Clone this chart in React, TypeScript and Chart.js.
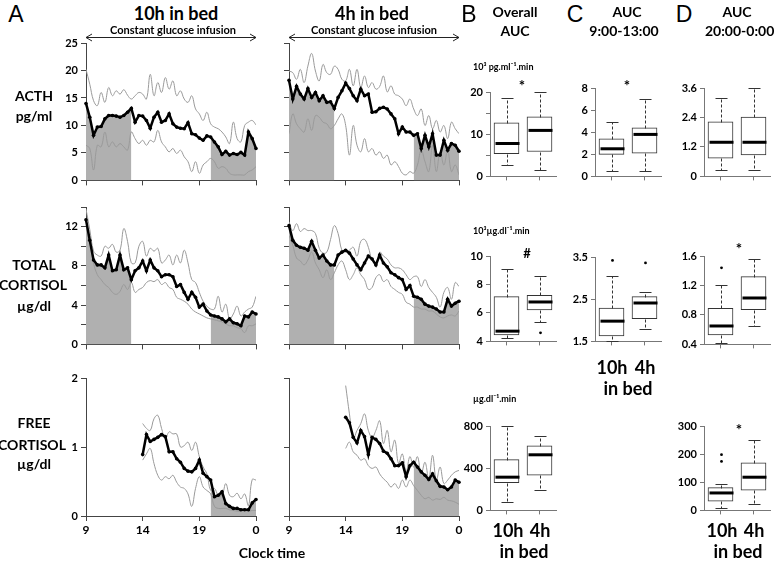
import React, { useEffect, useRef } from 'react';
import { Chart, registerables } from 'chart.js';
Chart.register(...registerables);

const FONT = 'Lato, "Open Sans", "DejaVu Sans", sans-serif';
Chart.defaults.font.family = FONT;
Chart.defaults.color = '#000';

// ---- time grid (20-minute samples) ----
const HOURS_FULL = Array.from({ length: 46 }, (_, i) => 9 + i / 3);
const HOURS_PM = Array.from({ length: 31 }, (_, i) => 14 + i / 3);
const WINDOWS_FULL = [[9, 13], [20, 24]];
const WINDOWS_PM = [[20, 24]];
const X_TICKS = [9, 14, 19, 24];
const X_TICK_LABELS = ['9', '14', '19', '0'];

// ---- ACTH (pg/ml) ----
const ACTH_10H_MEAN = [14.0, 11.5, 8.2, 9.7, 9.8, 11.2, 11.8, 11.8, 11.7, 11.5, 11.8, 12.4, 13.1, 10.6, 11.8, 11.7, 10.9, 9.5, 11.5, 12.4, 10.6, 10.9, 12.1, 10.3, 9.7, 9.5, 9.4, 10.5, 8.5, 8.3, 7.7, 7.3, 8.1, 7.9, 7.0, 6.1, 4.7, 5.3, 4.6, 4.9, 4.7, 5.1, 4.6, 8.8, 7.6, 5.8];
const ACTH_10H_UP = [20.2, 17.5, 14.5, 13.6, 16.0, 14.2, 16.9, 15.4, 16.3, 15.7, 16.5, 15.5, 14.8, 15.4, 16.0, 15.7, 14.8, 19.3, 15.4, 17.8, 16.0, 18.7, 16.6, 18.1, 15.4, 16.3, 14.8, 14.2, 15.4, 13.0, 12.1, 10.9, 12.4, 10.3, 9.7, 9.4, 8.8, 7.9, 6.7, 10.6, 7.6, 7.0, 10.0, 10.6, 10.9, 10.1];
const ACTH_10H_LO = [6.4, 5.8, 1.9, 6.4, 6.1, 8.8, 6.1, 7.0, 6.1, 6.7, 6.1, 5.5, 8.8, 7.6, 6.7, 7.3, 6.4, 7.3, 7.0, 9.1, 7.0, 6.1, 5.2, 5.8, 4.9, 5.5, 4.3, 3.4, 1.6, 3.4, 1.3, 2.8, 3.4, 4.0, 3.4, 2.2, 2.5, 2.2, 1.3, 1.0, 1.0, 1.0, 1.0, 1.6, 1.9, 2.5];
const ACTH_4H_MEAN = [18.2, 14.8, 17.1, 15.7, 14.8, 16.7, 15.1, 16.0, 14.5, 15.4, 14.2, 14.3, 13.1, 15.1, 16.3, 17.7, 16.7, 15.4, 14.5, 16.6, 15.4, 15.7, 12.4, 12.5, 13.1, 13.3, 13.0, 12.1, 11.2, 8.5, 9.7, 8.8, 8.8, 8.2, 8.5, 5.8, 8.2, 6.1, 8.5, 4.6, 4.6, 7.3, 5.5, 6.7, 6.4, 5.3];
const ACTH_4H_UP = [19.9, 19.6, 18.4, 20.2, 17.8, 20.8, 23.1, 19.9, 18.1, 21.1, 19.6, 19.3, 20.8, 20.2, 18.4, 18.1, 20.2, 17.2, 20.2, 16.9, 19.0, 16.9, 17.8, 16.6, 17.1, 19.0, 16.1, 17.2, 15.7, 15.4, 14.8, 13.6, 14.8, 13.0, 11.8, 13.0, 10.0, 11.8, 9.4, 10.9, 8.8, 10.0, 7.6, 10.6, 9.4, 8.5];
const ACTH_4H_LO = [8.5, 12.1, 10.3, 9.4, 8.8, 11.2, 9.1, 11.8, 11.5, 10.6, 10.3, 9.4, 10.0, 11.2, 12.1, 10.0, 4.6, 10.0, 6.4, 5.2, 7.6, 5.2, 5.8, 4.6, 5.2, 4.0, 4.6, 2.8, 3.4, 2.5, 1.3, 1.0, 1.6, 1.3, 2.8, 5.5, 3.4, 1.6, 6.4, 1.6, 5.2, 2.8, 5.5, 1.6, 2.8, 1.0];

// ---- Total cortisol (ug/dl) ----
const TC_10H_MEAN = [12.7, 10.6, 8.6, 8.1, 8.1, 7.8, 9.1, 7.5, 7.6, 9.1, 7.6, 7.8, 6.6, 7.5, 7.8, 8.5, 7.5, 8.6, 7.8, 7.5, 6.9, 7.1, 7.1, 6.9, 5.9, 6.1, 5.3, 4.6, 5.3, 4.8, 3.8, 4.1, 3.4, 3.0, 2.9, 2.8, 2.6, 2.3, 2.6, 2.2, 2.1, 1.9, 2.9, 2.8, 3.3, 3.1];
const TC_10H_UP = [13.8, 11.7, 9.5, 9.1, 9.0, 10.0, 9.8, 10.2, 9.4, 9.6, 11.8, 10.5, 8.3, 8.3, 10.0, 10.5, 9.0, 9.8, 9.5, 9.8, 8.3, 8.6, 9.1, 8.1, 9.1, 8.3, 9.6, 8.3, 6.6, 6.3, 5.3, 4.4, 3.9, 3.6, 3.6, 4.9, 3.3, 4.1, 2.6, 3.1, 3.9, 2.9, 3.3, 3.6, 3.8, 4.9];
const TC_10H_LO = [12.3, 10.6, 8.3, 7.1, 6.6, 6.1, 5.8, 5.3, 5.1, 5.4, 6.1, 5.6, 6.3, 5.3, 5.6, 5.8, 6.3, 6.5, 6.4, 6.6, 6.1, 6.3, 5.8, 5.6, 4.8, 4.6, 4.4, 4.1, 3.6, 3.3, 3.1, 2.9, 2.7, 2.6, 2.5, 2.4, 2.3, 2.1, 1.9, 1.9, 1.7, 1.6, 1.2, 1.9, 1.9, 2.1];
const TC_4H_MEAN = [12.1, 10.6, 10.1, 9.9, 9.8, 9.6, 10.5, 9.6, 8.8, 9.1, 8.5, 8.1, 8.1, 9.1, 9.4, 9.6, 9.3, 8.7, 8.1, 7.6, 8.3, 9.0, 8.7, 8.1, 9.1, 8.3, 7.9, 7.3, 7.1, 6.8, 6.6, 5.6, 6.0, 4.9, 4.8, 4.6, 4.1, 3.9, 3.8, 3.6, 3.3, 3.3, 4.6, 3.9, 4.2, 4.4];
const TC_4H_UP = [12.5, 11.6, 12.3, 11.5, 11.8, 11.6, 11.6, 11.3, 9.8, 9.3, 9.4, 10.7, 12.1, 11.3, 9.6, 9.4, 9.6, 9.9, 9.0, 10.5, 10.7, 9.9, 8.6, 8.3, 9.4, 9.0, 8.7, 8.1, 7.8, 7.8, 7.6, 7.1, 6.6, 6.9, 6.9, 5.9, 6.6, 5.8, 5.3, 4.8, 3.8, 5.3, 5.8, 4.6, 6.3, 5.9];
const TC_4H_LO = [11.1, 10.1, 8.8, 8.5, 8.1, 8.6, 9.4, 8.3, 7.6, 6.8, 7.6, 6.6, 7.3, 8.1, 8.5, 7.6, 6.6, 7.1, 7.8, 7.1, 6.6, 5.6, 5.8, 6.8, 7.1, 6.4, 6.6, 5.9, 5.6, 5.3, 5.1, 4.3, 4.1, 3.8, 3.8, 3.6, 3.6, 3.4, 3.4, 3.1, 2.8, 2.7, 2.9, 3.0, 2.9, 3.4];

// ---- Free cortisol (ug/dl), 14:00-24:00 ----
const FC_10H_MEAN = [0.89, 1.18, 1.08, 1.11, 1.14, 1.18, 1.15, 0.93, 0.93, 0.83, 0.78, 0.69, 0.65, 0.64, 0.69, 0.81, 0.62, 0.57, 0.52, 0.28, 0.30, 0.35, 0.18, 0.14, 0.11, 0.11, 0.09, 0.09, 0.09, 0.19, 0.24];
const FC_10H_UP = [1.34, 1.27, 1.24, 1.41, 1.46, 1.27, 1.12, 1.22, 1.19, 1.19, 1.00, 1.02, 1.07, 0.95, 1.07, 0.86, 0.71, 0.61, 0.37, 0.40, 0.30, 0.30, 0.47, 0.30, 0.28, 0.33, 0.25, 0.32, 0.15, 0.53, 0.52];
const FC_10H_LO = [0.81, 0.90, 0.98, 0.76, 0.59, 0.52, 0.57, 0.54, 0.59, 0.49, 0.42, 0.40, 0.32, 0.14, 0.40, 0.57, 0.42, 0.37, 0.32, 0.14, 0.11, 0.11, 0.11, 0.09, 0.08, 0.07, 0.07, 0.08, 0.07, 0.08, 0.08];
const FC_4H_MEAN = [1.43, 1.35, 1.14, 1.06, 1.24, 1.15, 0.89, 1.14, 1.11, 1.05, 0.94, 0.91, 0.83, 0.73, 0.73, 0.77, 0.57, 0.73, 0.78, 0.71, 0.64, 0.59, 0.53, 0.61, 0.51, 0.43, 0.42, 0.38, 0.42, 0.52, 0.49];
const FC_4H_UP = [1.89, 1.48, 1.12, 1.24, 1.34, 1.48, 1.24, 1.14, 1.24, 1.38, 1.05, 1.24, 0.93, 1.10, 0.76, 0.90, 0.64, 0.86, 0.71, 0.86, 0.61, 0.78, 0.54, 0.88, 0.52, 0.71, 0.47, 0.52, 0.59, 0.64, 0.66];
const FC_4H_LO = [0.98, 1.07, 0.93, 0.88, 0.81, 0.83, 0.73, 0.69, 0.71, 0.61, 0.54, 0.49, 0.42, 0.47, 0.40, 0.52, 0.42, 0.52, 0.44, 0.37, 0.30, 0.25, 0.27, 0.23, 0.25, 0.24, 0.27, 0.23, 0.22, 0.20, 0.17];

// ---- line-panel y ticks ----
const ACTH_Y_TICKS = [0, 5, 10, 15, 20, 25];
const ACTH_Y_LABELS = ['0', '5', '10', '15', '20', '25'];
const TC_Y_TICKS = [0, 2, 4, 6, 8, 10, 12, 14];
const TC_Y_LABELS = ['0', '', '4', '', '8', '', '12', ''];
const FC_Y_TICKS = [0, 1, 2];
const FC_Y_LABELS = ['0', '1', '2'];
const NO_LABELS = ['', '', '', '', '', '', '', ''];

// ---- box plots: [10h, 4h] ----
const GROUPS = ['10h', '4h'];
const BOX_ACTH_ALL = [
  { min: 2.6, q1: 5.4, med: 7.8, q3: 12.7, max: 18.5, out: [] },
  { min: 1.5, q1: 5.9, med: 10.9, q3: 14.1, max: 20.0, out: [] },
];
const BOX_ACTH_AM = [
  { min: 0.45, q1: 2.0, med: 2.5, q3: 3.4, max: 4.9, out: [] },
  { min: 0.45, q1: 2.1, med: 3.8, q3: 4.4, max: 7.0, out: [] },
];
const BOX_ACTH_PM = [
  { min: 0.28, q1: 0.74, med: 1.39, q3: 2.22, max: 3.2, out: [] },
  { min: 0.28, q1: 0.87, med: 1.39, q3: 2.42, max: 3.62, out: [] },
];
const BOX_TC_ALL = [
  { min: 4.23, q1: 4.46, med: 4.72, q3: 7.15, max: 9.12, out: [] },
  { min: 5.34, q1: 6.22, med: 6.77, q3: 7.23, max: 8.6, out: [4.6] },
];
const BOX_TC_AM = [
  { min: 1.5, q1: 1.63, med: 1.98, q3: 2.29, max: 3.04, out: [3.42] },
  { min: 1.79, q1: 2.04, med: 2.41, q3: 2.56, max: 2.67, out: [3.36] },
];
const BOX_TC_PM = [
  { min: 0.42, q1: 0.53, med: 0.65, q3: 0.89, max: 1.21, out: [1.44] },
  { min: 0.65, q1: 0.87, med: 1.03, q3: 1.32, max: 1.56, out: [] },
];
const BOX_FC_ALL = [
  { min: 78, q1: 264, med: 315, q3: 481, max: 800, out: [] },
  { min: 193, q1: 335, med: 527, q3: 611, max: 707, out: [] },
];
const BOX_FC_PM = [
  { min: 8, q1: 33, med: 62, q3: 81, max: 93, out: [174, 198] },
  { min: 23, q1: 72, med: 118, q3: 169, max: 252, out: [] },
];

const B_ACTH_ALL_TICKS = [0, 5, 10, 15, 20];
const B_ACTH_ALL_LABELS = ['0', '', '10', '', '20'];
const B_ACTH_AM_TICKS = [0, 2, 4, 6, 8];
const B_ACTH_AM_LABELS = ['0', '2', '4', '6', '8'];
const B_ACTH_PM_TICKS = [0, 1.2, 2.4, 3.6];
const B_ACTH_PM_LABELS = ['0', '1.2', '2.4', '3.6'];
const B_TC_ALL_TICKS = [4, 6, 8, 10];
const B_TC_ALL_LABELS = ['4', '6', '8', '10'];
const B_TC_AM_TICKS = [1.5, 2.5, 3.5];
const B_TC_AM_LABELS = ['1.5', '2.5', '3.5'];
const B_TC_PM_TICKS = [0.4, 0.8, 1.2, 1.6];
const B_TC_PM_LABELS = ['0.4', '0.8', '1.2', '1.6'];
const B_FC_ALL_TICKS = [0, 400, 800];
const B_FC_ALL_LABELS = ['0', '400', '800'];
const B_FC_PM_TICKS = [0, 100, 200, 300];
const B_FC_PM_LABELS = ['0', '100', '200', '300'];

const TICK_FONT = { family: FONT, size: 11, weight: 'bold' as const };

function LinePanel(p: any) {
  const ref = useRef<HTMLCanvasElement>(null);
  const ml = 40, mr = 10, mt = p.arrow ? 14 : 10, mb = p.xLabels ? 24 : 8;
  const W = p.r - p.l + ml + mr;
  const H = p.b - p.t + mt + mb;
  useEffect(() => {
    const pts = (ys: number[]) => p.hours.map((h: number, i: number) => ({ x: h, y: ys[i] }));
    const meanPts = pts(p.mean);
    const shade = p.windows.map((w: number[]) => ({
      data: meanPts.filter((q: any) => q.x >= w[0] - 1e-6 && q.x <= w[1] + 1e-6),
      fill: 'origin',
      backgroundColor: '#b0b0b0',
      borderWidth: 0,
      pointRadius: 0,
      tension: 0,
    }));
    const arrowPlugin = {
      id: 'arrowTop',
      afterDraw(chart: any) {
        if (!p.arrow) return;
        const { ctx, chartArea } = chart;
        const x = chart.scales.x;
        const y = chartArea.top - 5.5;
        const x0 = x.getPixelForValue(9), x1 = x.getPixelForValue(24);
        ctx.save();
        ctx.strokeStyle = '#222';
        ctx.lineWidth = 1;
        ctx.beginPath();
        ctx.moveTo(x0, y); ctx.lineTo(x1, y);
        ctx.moveTo(x0 + 6, y - 3.5); ctx.lineTo(x0, y); ctx.lineTo(x0 + 6, y + 3.5);
        ctx.moveTo(x1 - 6, y - 3.5); ctx.lineTo(x1, y); ctx.lineTo(x1 - 6, y + 3.5);
        ctx.stroke();
        ctx.restore();
      },
    };
    const chart = new Chart(ref.current as HTMLCanvasElement, {
      type: 'line',
      data: {
        datasets: [
          {
            data: meanPts,
            borderColor: '#000',
            borderWidth: 2.5,
            pointRadius: 1.8,
            pointBackgroundColor: '#000',
            pointBorderWidth: 0,
            tension: 0,
            clip: false,
          },
          { data: pts(p.upper), borderColor: '#9a9a9a', borderWidth: 1, pointRadius: 0, tension: 0.4 },
          { data: pts(p.lower), borderColor: '#9a9a9a', borderWidth: 1, pointRadius: 0, tension: 0.4 },
          ...shade,
        ] as any,
      },
      options: {
        animation: false,
        responsive: false,
        devicePixelRatio: 1,
        layout: { padding: { top: mt, right: mr, left: 0, bottom: 0 } },
        plugins: { legend: { display: false }, tooltip: { enabled: false } },
        scales: {
          x: {
            type: 'linear',
            min: 9,
            max: 24,
            afterBuildTicks: (s: any) => { s.ticks = X_TICKS.map((v) => ({ value: v })); },
            afterFit: (s: any) => { s.height = mb; },
            ticks: {
              autoSkip: false,
              maxRotation: 0,
              padding: 2,
              font: { family: FONT, size: 12, weight: 'bold' },
              callback: (_v: any, i: number) => (p.xLabels ? X_TICK_LABELS[i] : ''),
            },
            grid: { drawOnChartArea: false, tickLength: 5, color: '#444' },
            border: { display: true, color: '#444', width: 1 },
          },
          y: {
            type: 'linear',
            min: 0,
            max: p.yMax,
            afterBuildTicks: (s: any) => { s.ticks = p.yTicks.map((v: number) => ({ value: v })); },
            afterFit: (s: any) => { s.width = ml; },
            ticks: {
              autoSkip: false,
              padding: 3,
              font: TICK_FONT,
              callback: (_v: any, i: number) => p.yLabels[i] ?? '',
            },
            grid: { drawOnChartArea: false, tickLength: 5, color: '#444' },
            border: { display: true, color: '#444', width: 1 },
          },
        },
      } as any,
      plugins: [arrowPlugin],
    });
    return () => chart.destroy();
  }, []);
  return (
    <canvas
      ref={ref}
      width={W}
      height={H}
      style={{ position: 'absolute', left: p.l - ml, top: p.t - mt, width: W, height: H }}
    />
  );
}

function BoxPanel(p: any) {
  const ref = useRef<HTMLCanvasElement>(null);
  const ml = 34, mr = 6, mt = 10, mb = 8;
  const W = p.r - p.l + ml + mr;
  const H = p.b - p.t + mt + mb;
  useEffect(() => {
    const boxes = p.boxes;
    const whiskers = {
      id: 'whiskers',
      afterDatasetsDraw(chart: any) {
        const { ctx } = chart;
        const x = chart.scales.x, y = chart.scales.y;
        boxes.forEach((bx: any, i: number) => {
          const cx = Math.round(x.getPixelForValue(i)) + 0.5;
          const py = (v: number) => Math.round(y.getPixelForValue(v)) + 0.5;
          ctx.save();
          ctx.strokeStyle = '#333';
          ctx.lineWidth = 1;
          ctx.setLineDash([3, 2]);
          ctx.beginPath();
          ctx.moveTo(cx, py(bx.q3)); ctx.lineTo(cx, py(bx.max));
          ctx.moveTo(cx, py(bx.q1)); ctx.lineTo(cx, py(bx.min));
          ctx.stroke();
          ctx.setLineDash([]);
          ctx.beginPath();
          [bx.min, bx.max].forEach((v: number) => { ctx.moveTo(cx - 6, py(v)); ctx.lineTo(cx + 6, py(v)); });
          ctx.stroke();
          ctx.lineWidth = 3;
          ctx.strokeStyle = '#000';
          ctx.beginPath();
          const my = y.getPixelForValue(bx.med);
          ctx.moveTo(cx - 12, my); ctx.lineTo(cx + 12, my);
          ctx.stroke();
          ctx.fillStyle = '#000';
          (bx.out || []).forEach((v: number) => {
            ctx.beginPath();
            ctx.arc(cx, y.getPixelForValue(v), 1.4, 0, Math.PI * 2);
            ctx.fill();
          });
          ctx.restore();
        });
      },
    };
    const chart = new Chart(ref.current as HTMLCanvasElement, {
      type: 'bar',
      data: {
        labels: GROUPS,
        datasets: [
          {
            data: boxes.map((b: any) => [b.q1, b.q3]),
            backgroundColor: '#fff',
            borderColor: '#333',
            borderWidth: 1,
            borderSkipped: false,
            barThickness: 25,
          },
        ] as any,
      },
      options: {
        animation: false,
        responsive: false,
        devicePixelRatio: 1,
        layout: { padding: { top: mt, right: mr, left: 0, bottom: 0 } },
        plugins: { legend: { display: false }, tooltip: { enabled: false } },
        scales: {
          x: {
            type: 'category',
            offset: true,
            afterFit: (s: any) => { s.height = mb; },
            ticks: { display: true, callback: () => '' },
            grid: { offset: false, drawOnChartArea: false, tickLength: 4, color: '#777' },
            border: { display: true, color: '#777', width: 1 },
          },
          y: {
            type: 'linear',
            min: p.yMin,
            max: p.yMax,
            afterBuildTicks: (s: any) => { s.ticks = p.yTicks.map((v: number) => ({ value: v })); },
            afterFit: (s: any) => { s.width = ml; },
            ticks: {
              autoSkip: false,
              padding: 3,
              font: TICK_FONT,
              callback: (_v: any, i: number) => p.yLabels[i] ?? '',
            },
            grid: { drawOnChartArea: false, tickLength: 4, color: '#777' },
            border: { display: true, color: '#777', width: 1 },
          },
        },
      } as any,
      plugins: [whiskers],
    });
    return () => chart.destroy();
  }, []);
  return (
    <canvas
      ref={ref}
      width={W}
      height={H}
      style={{ position: 'absolute', left: p.l - ml, top: p.t - mt, width: W, height: H }}
    />
  );
}

function T(p: { x: number; y: number; s: string; size?: number; w?: number; a?: 'c' | 'l'; f?: string }) {
  return (
    <div
      style={{
        position: 'absolute',
        left: p.x,
        top: p.y,
        transform: p.a === 'l' ? 'translate(0,-50%)' : 'translate(-50%,-50%)',
        fontFamily: p.f || FONT,
        fontSize: p.size || 15,
        fontWeight: p.w ?? 700,
        lineHeight: 1,
        whiteSpace: 'nowrap',
        color: '#000',
      }}
    >
      {p.s}
    </div>
  );
}

export default function App() {
  const L10 = { l: 86, r: 256 };
  const L4 = { l: 289, r: 459 };
  const R1 = { t: 43, b: 182 };
  const R2 = { t: 207, b: 346 };
  const R3 = { t: 378, b: 516 };
  const letter = '"Liberation Sans", Arial, sans-serif';
  return (
    <div
      style={{
        position: 'absolute',
        left: 0,
        top: 0,
        width: 777,
        height: 562,
        background: '#fff',
        overflow: 'hidden',
      }}
    >
      {/* panel A line charts */}
      <LinePanel {...L10} {...R1} arrow hours={HOURS_FULL} mean={ACTH_10H_MEAN} upper={ACTH_10H_UP} lower={ACTH_10H_LO} windows={WINDOWS_FULL} yMax={25} yTicks={ACTH_Y_TICKS} yLabels={ACTH_Y_LABELS} xLabels={false} />
      <LinePanel {...L4} {...R1} arrow hours={HOURS_FULL} mean={ACTH_4H_MEAN} upper={ACTH_4H_UP} lower={ACTH_4H_LO} windows={WINDOWS_FULL} yMax={25} yTicks={ACTH_Y_TICKS} yLabels={NO_LABELS} xLabels={false} />
      <LinePanel {...L10} {...R2} hours={HOURS_FULL} mean={TC_10H_MEAN} upper={TC_10H_UP} lower={TC_10H_LO} windows={WINDOWS_FULL} yMax={14} yTicks={TC_Y_TICKS} yLabels={TC_Y_LABELS} xLabels={false} />
      <LinePanel {...L4} {...R2} hours={HOURS_FULL} mean={TC_4H_MEAN} upper={TC_4H_UP} lower={TC_4H_LO} windows={WINDOWS_FULL} yMax={14} yTicks={TC_Y_TICKS} yLabels={NO_LABELS} xLabels={false} />
      <LinePanel {...L10} {...R3} hours={HOURS_PM} mean={FC_10H_MEAN} upper={FC_10H_UP} lower={FC_10H_LO} windows={WINDOWS_PM} yMax={2} yTicks={FC_Y_TICKS} yLabels={FC_Y_LABELS} xLabels />
      <LinePanel {...L4} {...R3} hours={HOURS_PM} mean={FC_4H_MEAN} upper={FC_4H_UP} lower={FC_4H_LO} windows={WINDOWS_PM} yMax={2} yTicks={FC_Y_TICKS} yLabels={NO_LABELS} xLabels />

      {/* box plots */}
      <BoxPanel l={490} r={556} t={92} b={178} boxes={BOX_ACTH_ALL} yMin={0} yMax={20} yTicks={B_ACTH_ALL_TICKS} yLabels={B_ACTH_ALL_LABELS} />
      <BoxPanel l={595} r={661} t={88} b={178} boxes={BOX_ACTH_AM} yMin={0} yMax={8} yTicks={B_ACTH_AM_TICKS} yLabels={B_ACTH_AM_LABELS} />
      <BoxPanel l={704} r={770} t={88} b={178} boxes={BOX_ACTH_PM} yMin={0} yMax={3.6} yTicks={B_ACTH_PM_TICKS} yLabels={B_ACTH_PM_LABELS} />
      <BoxPanel l={490} r={556} t={256} b={343} boxes={BOX_TC_ALL} yMin={4} yMax={10} yTicks={B_TC_ALL_TICKS} yLabels={B_TC_ALL_LABELS} />
      <BoxPanel l={595} r={661} t={257} b={343} boxes={BOX_TC_AM} yMin={1.5} yMax={3.5} yTicks={B_TC_AM_TICKS} yLabels={B_TC_AM_LABELS} />
      <BoxPanel l={704} r={770} t={256} b={346} boxes={BOX_TC_PM} yMin={0.4} yMax={1.6} yTicks={B_TC_PM_TICKS} yLabels={B_TC_PM_LABELS} />
      <BoxPanel l={490} r={556} t={426} b={512} boxes={BOX_FC_ALL} yMin={0} yMax={800} yTicks={B_FC_ALL_TICKS} yLabels={B_FC_ALL_LABELS} />
      <BoxPanel l={704} r={770} t={426} b={512} boxes={BOX_FC_PM} yMin={0} yMax={300} yTicks={B_FC_PM_TICKS} yLabels={B_FC_PM_LABELS} />

      {/* headings */}
      <T x={16} y={14} s="A" size={23} w={400} f={letter} />
      <T x={469} y={14} s="B" size={23} w={400} f={letter} />
      <T x={575} y={14} s="C" size={23} w={400} f={letter} />
      <T x={684} y={14} s="D" size={23} w={400} f={letter} />
      <T x={176} y={13} s="10h in bed" size={18} />
      <T x={372} y={13} s="4h in bed" size={18} />
      <T x={173} y={29} s="Constant glucose infusion" size={11} />
      <T x={374} y={29} s="Constant glucose infusion" size={11} />
      <T x={515} y={12} s="Overall" size={14} />
      <T x={515} y={31} s="AUC" size={14} />
      <T x={627} y={12} s="AUC" size={14} />
      <T x={624} y={31} s="9:00-13:00" size={14} />
      <T x={737} y={12} s="AUC" size={14} />
      <T x={705} y={31} s="20:00-0:00" size={14} a="l" />

      {/* row labels */}
      <T x={34} y={96} s="ACTH" size={14} />
      <T x={34} y={116} s="pg/ml" size={14} />
      <T x={34} y={265} s="TOTAL" size={14} />
      <T x={33} y={285} s="CORTISOL" size={14} />
      <T x={34} y={306} s="µg/dl" size={14} />
      <T x={34} y={423} s="FREE" size={14} />
      <T x={32} y={445} s="CORTISOL" size={14} />
      <T x={34} y={464} s="µg/dl" size={14} />
      <T x={272} y={553} s="Clock time" size={14} />

      {/* units */}
      <T x={473} y={66} s="10³ pg.ml⁻¹.min" size={9} a="l" />
      <T x={473} y={230} s="10³µg.dl⁻¹.min" size={9} a="l" />
      <T x={473} y={398} s="µg.dl⁻¹.min" size={9} a="l" />

      {/* significance marks */}
      <T x={522} y={85} s="*" size={15} />
      <T x={627} y={85} s="*" size={15} />
      <T x={527} y={253} s="#" size={13} />
      <T x={739} y={248} s="*" size={15} />
      <T x={739} y={429} s="*" size={15} />

      {/* group labels */}
      <T x={612} y={367} s="10h" size={18} />
      <T x={645} y={367} s="4h" size={18} />
      <T x={628} y={388} s="in bed" size={18} />
      <T x={508} y={530} s="10h" size={18} />
      <T x={540} y={530} s="4h" size={18} />
      <T x={524} y={551} s="in bed" size={18} />
      <T x={722} y={530} s="10h" size={18} />
      <T x={754} y={530} s="4h" size={18} />
      <T x={738} y={551} s="in bed" size={18} />
    </div>
  );
}
